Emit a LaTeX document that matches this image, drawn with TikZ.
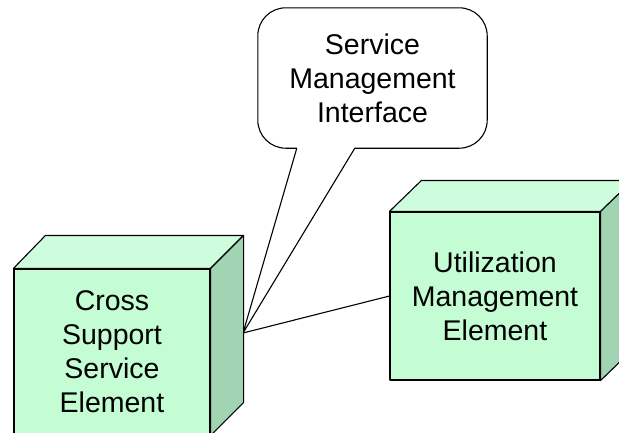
\documentclass[tikz,border=0pt]{standalone}
\usepackage{fontspec}
\setmainfont{Liberation Sans}
\usetikzlibrary{calc}
\usetikzlibrary{positioning, backgrounds}

\definecolor{frontgreen}{RGB}{196,253,212}
\definecolor{topgreen}{RGB}{206,253,222}
\definecolor{sidegreen}{RGB}{160,212,178}

\tikzset{
  face/.style={draw=black, line width=1.1pt, line join=round},
  front/.style={face, fill=frontgreen, align=center, inner sep=0pt,
    font=\fontsize{28.5}{34}\selectfont},
  topface/.style={face, fill=topgreen},
  sideface/.style={face, fill=sidegreen},
  balloon/.style={draw=black, line width=1.1pt, fill=white},
  link/.style={draw=black, line width=1.1pt}
}

\begin{document}
\begin{tikzpicture}[x=1pt, y=-1pt]
      \useasboundingbox (0,0) rectangle (619,432);
      \clip (0,0) rectangle (619,432);
      % cross support element
      \node[front, minimum width=196pt, minimum height=166pt] (csse) at (112,352)
        {Cross\\Support\\Service\\Element};
      \draw[topface] (csse.north west) -- ++(32,-33) -- ($(csse.north east)+(33,-33)$)
        -- (csse.north east) -- cycle;
      \draw[sideface] (csse.north east) -- ++(33,-33) -- ($(csse.south east)+(33,-33)$)
        -- (csse.south east) -- cycle;
      % utilization element
      \node[front, minimum width=210pt, minimum height=168pt] (ume) at (495,296)
        {Utilization\\Management\\Element};
      \draw[topface] (ume.north west) -- ++(32,-31) -- ($(ume.north east)+(32,-31)$)
        -- (ume.north east) -- cycle;
      \draw[sideface] (ume.north east) -- ++(32,-31) -- ($(ume.south east)+(32,-31)$)
        -- (ume.south east) -- cycle;
      % interface balloon
      \coordinate (tip) at (243,333);
      \node[align=center, minimum width=229pt, minimum height=140pt, inner sep=0pt,
        font=\fontsize{28.5}{34}\selectfont] (smi) at (372.5,78)
        {Service\\Management\\Interface};
      \begin{scope}[on background layer]
        \draw[balloon] ($(smi.south west)+(39,0)$) -- (tip) -- ($(smi.south west)+(97,0)$)
          [rounded corners=28pt] -- (smi.south east) -- (smi.north east)
          -- (smi.north west) -- (smi.south west) -- ($(smi.south west)+(39,0)$);
      \end{scope}
      \draw[link] (tip) -- (ume.west);
\end{tikzpicture}
\end{document}
